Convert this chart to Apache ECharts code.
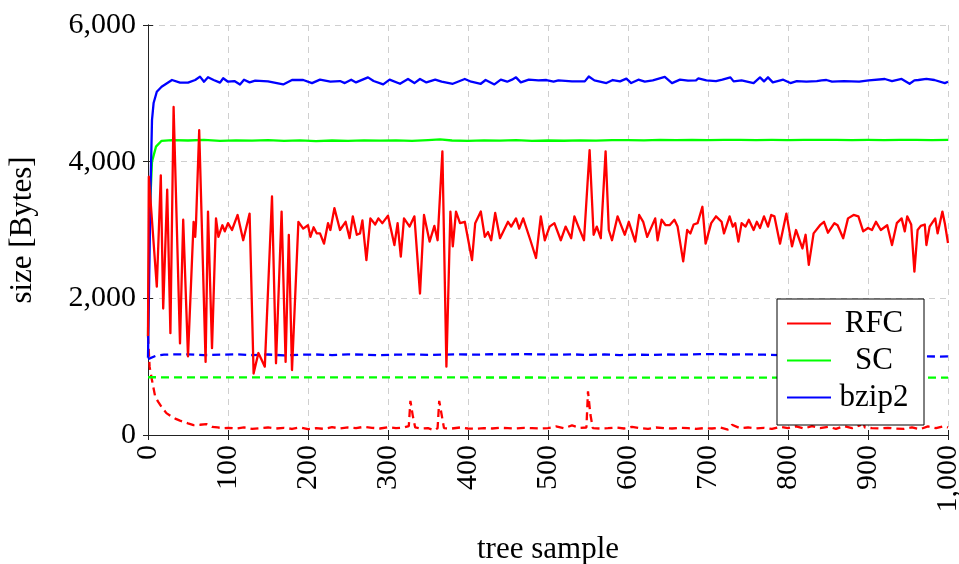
<!DOCTYPE html>
<html>
<head>
<meta charset="utf-8">
<script src="https://cdn.jsdelivr.net/npm/echarts@6/dist/echarts.min.js"></script>
<style>
  html, body { margin: 0; padding: 0; background: #fff; }
  #chart { width: 959px; height: 564px; }
</style>
</head>
<body>
<div id="chart"></div>
<script>
// [tree sample, size in bytes]
var rfc = [[0,1450],[1,3780],[11,2170],[16,3800],[19,1850],[24,3590],[28,1490],[32,4800],[40,1340],[44,3150],[50,1150],[57,3120],[59,2900],[60,3100],[64,4460],[72,1070],[75,3270],[80,1270],[85,3170],[88,2900],[93,3070],[96,2980],[100,3100],[105,3000],[112,3220],[119,2850],[127,3240],[132,900],[138,1200],[142,1100],[146,1000],[155,3490],[160,1050],[167,3270],[172,1070],[176,2930],[180,950],[188,3120],[194,3020],[200,3070],[203,2900],[207,3040],[211,2950],[215,2950],[220,2800],[225,3100],[228,3000],[233,3320],[240,3000],[247,3120],[252,2880],[256,3200],[261,2930],[265,2950],[268,3140],[273,2560],[278,3170],[284,3080],[288,3170],[293,3100],[300,3210],[308,2780],[312,3100],[316,2610],[320,3170],[327,3050],[333,3200],[340,2070],[345,3220],[352,2830],[358,3060],[362,2850],[368,4150],[373,1000],[378,3270],[381,2760],[385,3270],[390,3100],[396,3120],[405,2560],[409,3100],[416,3270],[421,2900],[425,2970],[429,2850],[434,3250],[440,2880],[450,3120],[454,3050],[460,3170],[464,3020],[469,3170],[478,2850],[485,2590],[491,3200],[496,2850],[502,3050],[508,3100],[516,2850],[522,3050],[529,2880],[533,3200],[538,3050],[545,2850],[552,4170],[557,2930],[561,3050],[566,2880],[572,4150],[576,3000],[580,2850],[587,3200],[592,3050],[596,2930],[601,3120],[609,2830],[614,3220],[619,3120],[624,2900],[634,3170],[637,2850],[642,3150],[647,3070],[652,3070],[658,3150],[662,3050],[669,2540],[674,3000],[678,2950],[682,3080],[687,3100],[693,3340],[697,2800],[704,3100],[710,3200],[717,3120],[720,2950],[727,3200],[731,3050],[734,3100],[738,2830],[742,3100],[747,3050],[751,3150],[757,3000],[761,3120],[765,3030],[770,3200],[775,3050],[779,3220],[783,3200],[790,2800],[798,3240],[805,2760],[810,3000],[818,2730],[822,2930],[826,2490],[832,2950],[840,3070],[845,3120],[850,2960],[858,3100],[862,3070],[869,2880],[875,3170],[882,3220],[888,3200],[894,2980],[900,3030],[905,3000],[910,3120],[916,3000],[924,3070],[930,2780],[936,3100],[942,3170],[946,2980],[949,3200],[954,3080],[958,2390],[962,3000],[966,3060],[971,3080],[973,2780],[977,3050],[984,3170],[987,2950],[993,3270],[996,3100],[1000,2810]];

var sc = [[0,1450],[2,3200],[5,4000],[10,4220],[17,4305],[30,4315],[50,4310],[70,4318],[90,4305],[110,4312],[130,4308],[150,4315],[170,4305],[190,4312],[210,4300],[230,4310],[250,4305],[270,4312],[290,4308],[310,4312],[330,4305],[350,4315],[365,4325],[380,4310],[400,4305],[420,4312],[440,4308],[460,4314],[480,4305],[500,4310],[520,4306],[540,4312],[560,4308],[580,4315],[600,4316],[620,4312],[640,4318],[660,4314],[680,4318],[700,4315],[720,4318],[740,4320],[760,4316],[780,4318],[800,4316],[820,4320],[840,4318],[860,4320],[880,4316],[900,4318],[920,4315],[940,4318],[960,4320],[980,4316],[1000,4318]];

var bzip2 = [[0,1130],[3,3500],[5,4610],[7,4858],[11,5024],[17,5097],[30,5195],[40,5156],[50,5156],[59,5195],[65,5244],[70,5170],[75,5235],[82,5195],[90,5156],[94,5220],[100,5170],[108,5180],[115,5130],[120,5200],[127,5160],[134,5185],[150,5175],[169,5130],[180,5195],[194,5195],[205,5150],[215,5200],[228,5170],[240,5180],[246,5150],[254,5200],[260,5160],[275,5234],[282,5180],[294,5130],[302,5200],[315,5140],[325,5210],[333,5150],[340,5210],[348,5160],[359,5200],[367,5170],[381,5140],[396,5210],[404,5170],[416,5140],[422,5195],[433,5130],[441,5200],[449,5170],[455,5200],[460,5234],[466,5160],[476,5200],[488,5190],[498,5195],[507,5170],[513,5190],[530,5175],[546,5175],[551,5246],[558,5190],[573,5150],[581,5195],[590,5175],[598,5215],[604,5150],[613,5200],[621,5170],[631,5190],[646,5240],[655,5150],[665,5200],[675,5185],[685,5190],[688,5220],[698,5190],[710,5180],[718,5200],[728,5234],[732,5175],[742,5190],[757,5150],[765,5234],[770,5175],[775,5234],[781,5160],[794,5200],[803,5150],[811,5180],[823,5170],[836,5180],[842,5190],[848,5195],[855,5170],[870,5180],[889,5170],[901,5190],[921,5210],[930,5180],[942,5210],[952,5140],[958,5190],[963,5195],[973,5210],[983,5195],[996,5150],[1000,5170]];

var rfcBase = [[0,1450],[2,1000],[5,800],[9,560],[13,480],[17,410],[23,320],[28,280],[34,240],[40,210],[44,195],[50,170],[57,145],[65,150],[73,160],[80,120],[87,110],[94,100],[100,105],[110,95],[120,110],[130,90],[140,100],[150,110],[160,95],[170,105],[180,90],[190,110],[200,85],[210,100],[220,90],[230,115],[240,95],[250,110],[260,100],[270,120],[280,105],[290,95],[300,115],[310,100],[320,110],[326,130],[328,500],[331,280],[334,110],[340,95],[350,100],[358,70],[362,100],[364,500],[367,300],[370,100],[380,95],[390,110],[400,95],[410,90],[420,100],[430,95],[440,105],[450,100],[460,95],[470,105],[480,100],[490,95],[500,100],[510,125],[520,100],[530,140],[540,105],[548,110],[550,640],[553,300],[556,100],[565,95],[575,100],[585,110],[595,95],[605,120],[615,100],[625,90],[635,110],[645,100],[655,95],[665,105],[675,100],[685,90],[695,100],[705,95],[715,110],[725,80],[730,150],[740,100],[750,110],[760,95],[770,105],[780,90],[790,120],[800,100],[810,125],[820,95],[830,130],[840,100],[850,120],[860,90],[870,130],[880,100],[890,140],[893,250],[896,110],[905,100],[915,95],[925,105],[935,95],[945,90],[955,110],[965,85],[975,125],[985,100],[995,130],[1000,110]];

var scBase = [[0,845],[200,842],[400,842],[600,840],[800,840],[1000,840]];

var bzip2Base = [[0,1110],[10,1160],[20,1175],[30,1180],[50,1180],[70,1170],[90,1175],[110,1180],[130,1170],[150,1178],[170,1165],[190,1175],[210,1178],[230,1170],[250,1180],[270,1175],[290,1168],[310,1175],[330,1180],[350,1172],[370,1176],[390,1180],[410,1175],[430,1182],[450,1178],[470,1183],[490,1180],[510,1175],[530,1180],[550,1172],[570,1178],[590,1170],[610,1176],[630,1172],[650,1178],[670,1175],[690,1183],[710,1185],[730,1178],[750,1180],[770,1175],[790,1170],[810,1176],[830,1178],[850,1172],[870,1175],[890,1170],[910,1165],[930,1160],[950,1158],[970,1150],[990,1148],[1000,1150]];

var font = '"Liberation Serif", "DejaVu Serif", serif';

function withComma(v) {
  return String(v).replace(/\B(?=(\d{3})+(?!\d))/g, ',');
}

var chart = echarts.init(document.getElementById('chart'));

function solid(name, data, color) {
  return {
    name: name, type: 'line', data: data, symbol: 'none',
    lineStyle: { color: color, width: 2.3, join: 'round' }, itemStyle: { color: color }
  };
}
function dashed(name, data, color) {
  return {
    name: name, type: 'line', data: data, symbol: 'none',
    lineStyle: { color: color, width: 2.3, type: [8, 5] }, itemStyle: { color: color }
  };
}

chart.setOption({
  animation: false,
  grid: { left: 148, right: 11, top: 25, bottom: 129, outerBoundsMode: 'none', containLabel: false },
  legend: {
    data: ['RFC', 'SC', 'bzip2'],
    orient: 'vertical',
    left: 777, top: 299,
    icon: 'rect',
    itemWidth: 44, itemHeight: 2,
    itemGap: 6,
    padding: [9, 12, 12, 10],
    borderColor: '#000', borderWidth: 1,
    backgroundColor: '#fff',
    formatter: '{a|{name}}',
    textStyle: {
      fontFamily: font, fontSize: 31, color: '#000',
      rich: { a: { fontFamily: font, fontSize: 31, width: 76, align: 'center', lineHeight: 31 } }
    }
  },
  xAxis: [{
    type: 'value', min: 0, max: 1000, interval: 100,
    name: 'tree sample', nameLocation: 'middle', nameGap: 99,
    nameTextStyle: { fontFamily: font, fontSize: 31, color: '#000' },
    axisLine: { show: true, lineStyle: { color: '#222', width: 1 } },
    axisTick: { show: true, inside: true, length: 5, lineStyle: { color: '#222' } },
    axisLabel: {
      rotate: 90, margin: 10, fontFamily: font, fontSize: 30, color: '#000',
      formatter: withComma
    },
    splitLine: { show: true, lineStyle: { color: '#cfcfcf', type: [6, 5] } }
  }, {
    type: 'value', min: 0, max: 1000, interval: 100, position: 'top',
    axisLine: { show: true, lineStyle: { color: '#222', width: 1 } },
    axisTick: { show: true, inside: true, length: 5, lineStyle: { color: '#222' } },
    axisLabel: { show: false }, splitLine: { show: false }
  }],
  yAxis: [{
    type: 'value', min: 0, max: 6000, interval: 2000,
    name: 'size [Bytes]', nameLocation: 'middle', nameGap: 110,
    nameTextStyle: { fontFamily: font, fontSize: 31, color: '#000' },
    axisLine: { show: true, lineStyle: { color: '#222', width: 1 } },
    axisTick: { show: true, inside: true, length: 5, lineStyle: { color: '#222' } },
    axisLabel: { margin: 12, fontFamily: font, fontSize: 30, color: '#000', formatter: withComma },
    splitLine: { show: true, lineStyle: { color: '#cfcfcf', type: [6, 5] } }
  }, {
    type: 'value', min: 0, max: 6000, interval: 2000, position: 'right',
    axisLine: { show: true, lineStyle: { color: '#222', width: 1 } },
    axisTick: { show: true, inside: true, length: 5, lineStyle: { color: '#222' } },
    axisLabel: { show: false }, splitLine: { show: false }
  }],
  series: [
    dashed('RFC base', rfcBase, '#ff0000'),
    dashed('SC base', scBase, '#00ff00'),
    dashed('bzip2 base', bzip2Base, '#0000ff'),
    solid('SC', sc, '#00ff00'),
    solid('bzip2', bzip2, '#0000ff'),
    solid('RFC', rfc, '#ff0000')
  ]
});
</script>
</body>
</html>
